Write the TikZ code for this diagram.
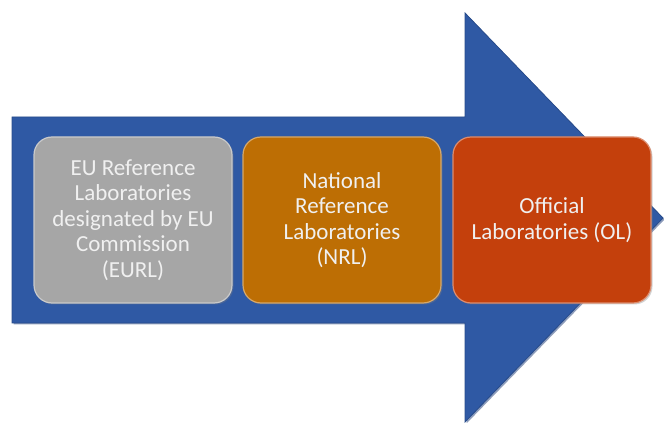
\documentclass[tikz,border=0pt]{standalone}
\usepackage{fontspec}
\setmainfont{Carlito}
\usetikzlibrary{shadows}
\definecolor{arrowblue}{RGB}{47,89,164}
\definecolor{arrowedge}{RGB}{30,60,120}
\definecolor{eurlgray}{RGB}{166,166,166}
\definecolor{nrlorange}{RGB}{189,110,4}
\definecolor{olred}{RGB}{196,64,12}
\definecolor{labtext}{RGB}{240,240,240}
\tikzset{
  labbox/.style={rounded corners=18pt, minimum width=198pt, minimum height=166pt,
    draw=#1!60!white, line width=1.2pt, fill=#1, text=labtext, align=center,
    inner sep=4pt, font=\fontsize{23}{25.5}\selectfont,
    drop shadow={shadow xshift=1.5pt, shadow yshift=-1.5pt, opacity=0.35}},
}
\begin{document}
\begin{tikzpicture}[x=1pt,y=1pt]
\useasboundingbox (0,0) rectangle (664,423);
% big arrow
\coordinate (s1) at (12,306);
\coordinate (s2) at (465,306);
\coordinate (h1) at (465,410);
\coordinate (tip) at (663,205);
\coordinate (h2) at (465,1);
\coordinate (s3) at (465,100);
\coordinate (s4) at (12,100);
\fill[arrowedge, opacity=0.5] ([shift={(1.5,-1.5)}]s1) -- ([shift={(1.5,-1.5)}]s2) -- ([shift={(1.5,-1.5)}]h1) -- ([shift={(1.5,-1.5)}]tip) -- ([shift={(1.5,-1.5)}]h2) -- ([shift={(1.5,-1.5)}]s3) -- ([shift={(1.5,-1.5)}]s4) -- cycle;
\filldraw[fill=arrowblue, draw=arrowblue!85!black, line width=0.8pt] (s1) -- (s2) -- (h1) -- (tip) -- (h2) -- (s3) -- (s4) -- cycle;
% boxes
\node[labbox=eurlgray] (eurl) at (133,203) {EU Reference\\Laboratories\\designated by EU\\Commission\\(EURL)};
\node[labbox=nrlorange] (nrl) at (342,203) {National\\Reference\\Laboratories\\(NRL)};
\node[labbox=olred] (ol) at (552,203) {Official\\Laboratories (OL)};
\end{tikzpicture}
\end{document}
